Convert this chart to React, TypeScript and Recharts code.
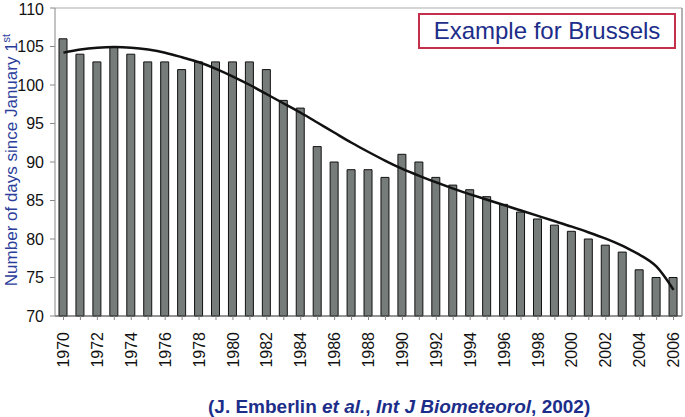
import { Bar, CartesianGrid, ComposedChart, Label, Line, XAxis, YAxis } from "recharts";

const years = [
  1970, 1971, 1972, 1973, 1974, 1975, 1976, 1977, 1978, 1979, 1980, 1981, 1982,
  1983, 1984, 1985, 1986, 1987, 1988, 1989, 1990, 1991, 1992, 1993, 1994, 1995,
  1996, 1997, 1998, 1999, 2000, 2001, 2002, 2003, 2004, 2005, 2006,
];

// days since January 1st (bars)
const days = [
  106, 104, 103, 105, 104, 103, 103, 102, 103, 103, 103, 103, 102,
  98, 97, 92, 90, 89, 89, 88, 91, 90, 88, 87, 86.4, 85.5,
  84.5, 83.5, 82.6, 81.8, 81, 80, 79.2, 78.3, 76, 75, 75,
];

// smoothed trend curve
const trend = [
  104.2, 104.6, 104.85, 104.95, 104.85, 104.6, 104.2, 103.6, 102.95, 102.1, 101.1, 100.0, 98.8,
  97.6, 96.4, 95.1, 93.8, 92.5, 91.3, 90.15, 89.1, 88.2, 87.35, 86.55, 85.8, 85.1,
  84.4, 83.7, 83.0, 82.3, 81.6, 80.85, 80.05, 79.1, 77.95, 76.4, 73.4,
];

const yTicks = [70, 75, 80, 85, 90, 95, 100, 105, 110];

const data = years.map((y, i) => ({ year: String(y), days: days[i], trend: trend[i] }));

const font = '"Liberation Sans", Arial, sans-serif';
const navy = "#1c2d8a";

const YearTick = (props: any) => {
  const { x, y, payload } = props;
  if (Number(payload.value) % 2 !== 0) return null;
  return (
    <text
      x={x}
      y={y + 10}
      transform={`rotate(-90, ${x}, ${y + 10})`}
      textAnchor="end"
      dy="0.35em"
      fontSize={16}
      fontFamily={font}
      fill="#111"
    >
      {payload.value}
    </text>
  );
};

const YTitle = () => (
  <text
    transform="translate(17,160) rotate(-90)"
    textAnchor="middle"
    fontSize={17}
    fontFamily={font}
    fill="#2b3d9b"
  >
    Number of days since January 1<tspan dy={-7} fontSize={11}>st</tspan>
  </text>
);

const App = () => (
  <div
    style={{
      position: "absolute",
      left: 0,
      top: 0,
      width: 685,
      height: 417,
      background: "#fff",
      fontFamily: font,
    }}
  >
    <ComposedChart
      width={685}
      height={417}
      data={data}
      margin={{ top: 8, right: 2, left: 0, bottom: 51 }}
    >
      <CartesianGrid vertical={false} stroke="#c4c8c6" strokeWidth={1.5} />
      <XAxis
        dataKey="year"
        interval={0}
        height={50}
        tick={<YearTick />}
        tickLine={{ stroke: "#888" }}
        tickSize={4}
        axisLine={{ stroke: "#555" }}
      />
      <YAxis
        yAxisId="left"
        domain={[70, 110]}
        ticks={yTicks}
        width={55}
        tickSize={5}
        tickMargin={6}
        tick={{ fill: "#111", fontSize: 16, fontFamily: font }}
        tickLine={{ stroke: "#888" }}
        axisLine={{ stroke: "#888" }}
      >
        <Label content={() => <YTitle />} />
      </YAxis>
      <YAxis
        yAxisId="right"
        orientation="right"
        domain={[70, 110]}
        width={1}
        tick={false}
        tickLine={false}
        axisLine={{ stroke: "#999", strokeWidth: 1.5 }}
      />
      <Bar
        yAxisId="left"
        dataKey="days"
        barSize={8}
        fill="#767c7a"
        stroke="#111"
        strokeWidth={1}
        isAnimationActive={false}
      />
      <Line
        yAxisId="left"
        dataKey="trend"
        type="natural"
        stroke="#111"
        strokeWidth={2.5}
        dot={false}
        isAnimationActive={false}
      />
    </ComposedChart>
    <div
      style={{
        position: "absolute",
        left: 418,
        top: 13,
        width: 258,
        height: 36,
        boxSizing: "border-box",
        border: "2px solid #c42f4c",
        background: "#fff",
        color: navy,
        fontSize: 24,
        lineHeight: "32px",
        textAlign: "center",
      }}
    >
      Example for Brussels
    </div>
    <div
      style={{
        position: "absolute",
        left: 208,
        top: 397,
        fontSize: 19,
        lineHeight: "19px",
        fontWeight: "bold",
        color: navy,
        whiteSpace: "nowrap",
      }}
    >
      (J. Emberlin <i>et al.</i>, <i>Int J Biometeorol</i>, 2002)
    </div>
  </div>
);

export default App;
